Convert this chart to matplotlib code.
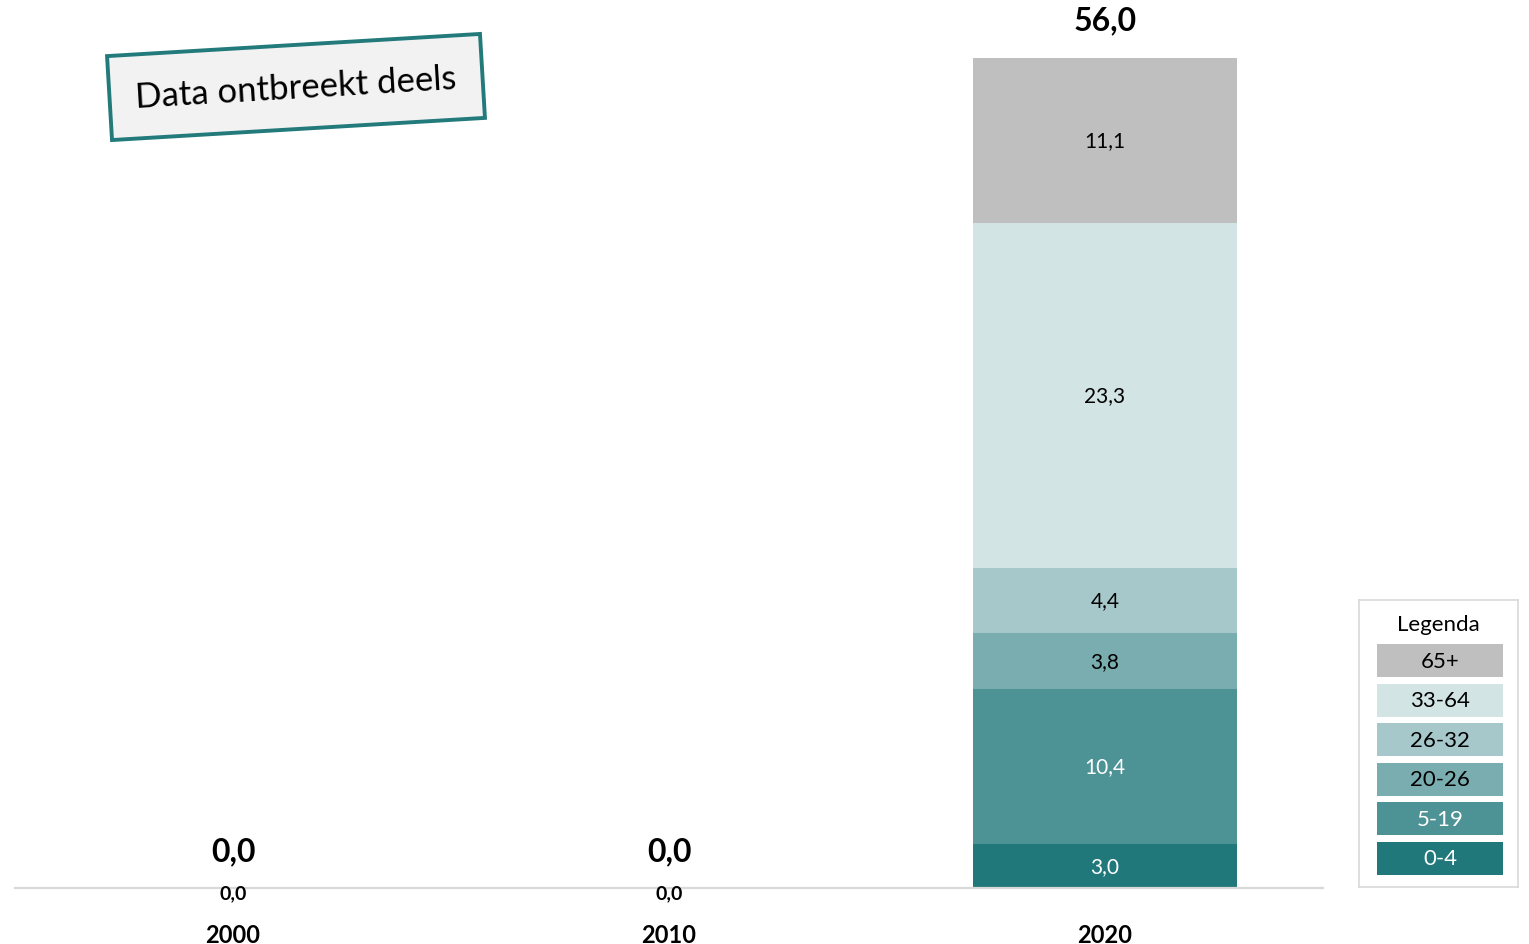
import matplotlib.pyplot as plt
from matplotlib.patches import Rectangle

plt.rcParams['font.family'] = ['Lato', 'DejaVu Sans']

# data
years = ['2000', '2010', '2020']
groups = ['0-4', '5-19', '20-26', '26-32', '33-64', '65+']
values = {
    '0-4':   [0.0, 0.0, 3.0],
    '5-19':  [0.0, 0.0, 10.4],
    '20-26': [0.0, 0.0, 3.8],
    '26-32': [0.0, 0.0, 4.4],
    '33-64': [0.0, 0.0, 23.3],
    '65+':   [0.0, 0.0, 11.1],
}
colors = ['#20787A', '#4D9295', '#7AADAF', '#A6C8CA', '#D2E4E4', '#BFBFBF']
text_colors = ['white', 'white', 'black', 'black', 'black', 'black']

fig = plt.figure(figsize=(15.29, 9.45), dpi=100)
ax = fig.add_axes([15 / 1529, 56 / 945, 1308 / 1529, 889 / 945])

def fmt(v):
    return f'{v:.1f}'.replace('.', ',')

x = list(range(len(years)))
bottom = [0.0] * len(years)
for g, c, tc in zip(groups, colors, text_colors):
    vals = values[g]
    ax.bar(x, vals, bottom=bottom, width=0.606, color=c, linewidth=0)
    for i, v in enumerate(vals):
        if v > 0:
            ax.text(i, bottom[i] + v / 2, fmt(v), ha='center', va='center',
                    fontsize=15, color=tc)
    bottom = [b + v for b, v in zip(bottom, vals)]

# totals (and zero labels for the empty bars)
for i, tot in enumerate(bottom):
    if tot == 0:
        ax.text(i, -0.3, fmt(0.0), ha='center', va='center', fontsize=14,
                fontweight='bold')
        ax.text(i, 2.5, fmt(tot), ha='center', va='center', fontsize=23,
                fontweight='bold')
    else:
        ax.text(i, tot + 2.6, fmt(tot), ha='center', va='center', fontsize=23,
                fontweight='bold')

ax.set_xlim(-0.5, 2.5)
ax.set_ylim(0, 60)
ax.set_xticks(x)
ax.set_xticklabels(years, fontsize=17, fontweight='bold')
ax.tick_params(axis='x', length=0, pad=25)
ax.set_yticks([])
for s in ['top', 'right', 'left']:
    ax.spines[s].set_visible(False)
ax.spines['bottom'].set_color('#D9D9D9')
ax.spines['bottom'].set_linewidth(1.6)

# annotation
fig.text(296 / 1529, 1 - 88 / 945, 'Data ontbreekt deels', fontsize=25,
         rotation=3.4, ha='center', va='center', rotation_mode='anchor',
         bbox=dict(boxstyle='square,pad=0.75', fc='#F2F2F2', ec='#237A7B', lw=2.8))

# legend
lax = fig.add_axes([1359 / 1529, 1 - 888 / 945, 159 / 1529, 287 / 945])
lax.set_xlim(0, 159)
lax.set_ylim(287, 0)
lax.set_xticks([])
lax.set_yticks([])
for s in lax.spines.values():
    s.set_color('#D9D9D9')
    s.set_linewidth(1.2)
lax.text(79.5, 24, 'Legenda', ha='center', va='center', fontsize=16)
for k, (g, c, tc) in enumerate(zip(groups[::-1], colors[::-1], text_colors[::-1])):
    top = 44 + k * 39.6
    lax.add_patch(Rectangle((18, top), 126, 33, fc=c, ec='none'))
    lax.text(81, top + 16.5, g, ha='center', va='center', fontsize=16, color=tc)

fig.savefig('out.png', dpi=100)
